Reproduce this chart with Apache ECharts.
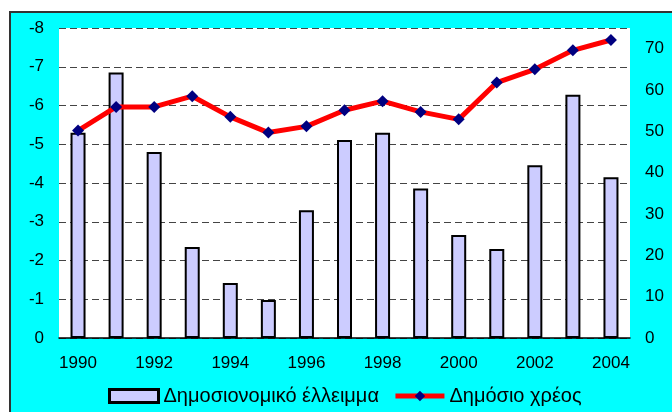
<!DOCTYPE html>
<html>
<head>
<meta charset="utf-8">
<script src="https://cdn.jsdelivr.net/npm/echarts@6/dist/echarts.min.js"></script>
<style>
  html, body { margin: 0; padding: 0; background: #fff; }
  #frame {
    position: absolute; left: 9px; top: 11px; width: 680px; height: 420px;
    background: #00ffff; border-left: 2px solid #333; border-top: 2px solid #333;
  }
  #chart { position: absolute; left: 0; top: 0; width: 672px; height: 412px; }
</style>
</head>
<body>
<div id="frame"></div>
<div id="chart"></div>
<script>
const years = ["1990", "1991", "1992", "1993", "1994", "1995", "1996", "1997",
  "1998", "1999", "2000", "2001", "2002", "2003", "2004"];
// Δημοσιονομικό έλλειμμα (% ΑΕΠ)
const deficit = [-5.3, -6.85, -4.8, -2.35, -1.42, -0.98, -3.3, -5.11,
  -5.3, -3.86, -2.66, -2.3, -4.46, -6.28, -4.15];
// Δημόσιο χρέος (% ΑΕΠ)
const debt = [50.2, 55.9, 55.9, 58.5, 53.5, 49.7, 51.2, 55.1,
  57.3, 54.7, 52.9, 61.8, 65.0, 69.6, 72.1];

const font = "Liberation Sans, Arial, sans-serif";

const myChart = echarts.init(document.getElementById("chart"), null, { renderer: "canvas" });

const option = {
  backgroundColor: "transparent",
  animation: false,
  textStyle: { fontFamily: font },
  grid: {
    left: 59,
    right: 42,
    top: 28,
    bottom: 74,
    show: true,
    backgroundColor: "#fff",
    borderWidth: 0,
  },
  legend: {
    left: 103,
    top: 381,
    itemWidth: 49,
    itemHeight: 13,
    itemGap: 14,
    textStyle: { fontSize: 20, color: "#000", fontFamily: font },
    data: [
      {
        name: "Δημοσιονομικό έλλειμμα",
        icon: "rect",
        itemStyle: { color: "#ccccff", borderColor: "#000", borderWidth: 3 },
      },
      {
        name: "Δημόσιο χρέος",
        lineStyle: { color: "#ff0000", width: 5 },
        itemStyle: { color: "#000080" },
      },
    ],
  },
  xAxis: {
    type: "category",
    data: years,
    axisLine: { lineStyle: { color: "#000", width: 1.5 } },
    axisTick: { interval: 0, length: 6, lineStyle: { color: "#000" } },
    axisLabel: { interval: 1, fontSize: 17, color: "#000", margin: 17 },
  },
  yAxis: [
    {
      type: "value",
      inverse: true,
      min: -8,
      max: 0,
      interval: 1,
      axisLine: { show: false },
      axisTick: { show: false },
      axisLabel: { fontSize: 17, color: "#000", margin: 15 },
      splitLine: { lineStyle: { color: "#444", type: [7, 4], width: 1 } },
    },
    {
      type: "value",
      min: 0,
      max: 75,
      interval: 10,
      axisLine: { show: false },
      axisTick: { show: false },
      axisLabel: { fontSize: 17, color: "#000", margin: 15, showMaxLabel: false },
      splitLine: { show: false },
    },
  ],
  series: [
    {
      name: "Δημοσιονομικό έλλειμμα",
      type: "bar",
      yAxisIndex: 0,
      barWidth: 15,
      itemStyle: { color: "#ccccff", borderColor: "#000", borderWidth: 2 },
      data: deficit,
    },
    {
      name: "Δημόσιο χρέος",
      type: "line",
      yAxisIndex: 1,
      symbol: "diamond",
      symbolSize: 12,
      lineStyle: { color: "#ff0000", width: 5 },
      itemStyle: { color: "#000080" },
      data: debt,
    },
  ],
};

myChart.setOption(option);
</script>
</body>
</html>
